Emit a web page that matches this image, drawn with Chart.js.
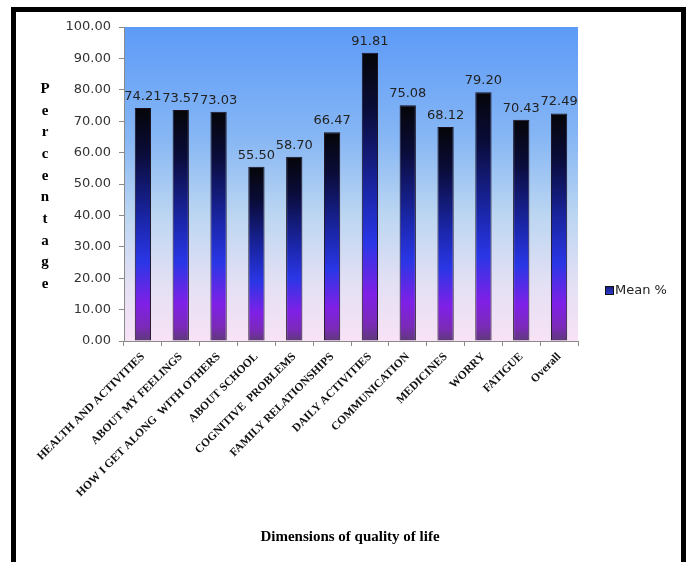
<!DOCTYPE html>
<html>
<head>
  <meta charset="UTF-8">
  <title>Dimensions of quality of life</title>
  <script src="https://cdn.jsdelivr.net/npm/chart.js@4/dist/chart.umd.min.js"></script>
  <style>
    html, body { margin: 0; padding: 0; background: #fff; }
    #wrap { position: relative; width: 689px; height: 562px; }
  </style>
</head>
<body>
  <div id="wrap"><canvas id="qolChart" width="689" height="562"></canvas></div>

  <script>
    // Mean % per dimension
    const dimensions = [
      "HEALTH AND ACTIVITIES", "ABOUT MY FEELINGS", "HOW I GET ALONG  WITH OTHERS",
      "ABOUT SCHOOL", "COGNITIVE  PROBLEMS", "FAMILY RELATIONSHIPS",
      "DAILY ACTIVITIES", "COMMUNICATION", "MEDICINES", "WORRY", "FATIGUE", "Overall"
    ];
    const meanPercent = [74.21, 73.57, 73.03, 55.50, 58.70, 66.47, 91.81, 75.08, 68.12, 79.20, 70.43, 72.49];
    const yTicks = [0, 10, 20, 30, 40, 50, 60, 70, 80, 90, 100];
    const seriesName = "Mean %";
    const yTitle = "Percentage";
    const xTitle = "Dimensions of quality of life";

    const numFont = "DejaVu Sans";
    const serifFont = "Liberation Serif";

    // fill for each bar: black at the top fading through blue to purple
    function barFill(ctx) {
      const chart = ctx.chart;
      if (!chart.chartArea || ctx.raw == null) return "#2030c0";
      const y = chart.scales.y;
      const top = y.getPixelForValue(ctx.raw);
      const base = y.getPixelForValue(0);
      const g = chart.ctx.createLinearGradient(0, top, 0, base);
      g.addColorStop(0, "#050508");
      g.addColorStop(0.2, "#0a0c3a");
      g.addColorStop(0.48, "#1a26a8");
      g.addColorStop(0.66, "#2a36e6");
      g.addColorStop(0.84, "#8020e6");
      g.addColorStop(0.94, "#7a2ab8");
      g.addColorStop(1, "#5e3a78");
      return g;
    }

    // plot background gradient, value labels, stacked y title, legend, frame
    const decor = {
      id: "decor",
      beforeDraw(chart) {
        const { ctx, chartArea: a } = chart;
        const g = ctx.createLinearGradient(0, a.top, 0, a.bottom);
        g.addColorStop(0, "#5d9bf8");
        g.addColorStop(0.35, "#86b6f4");
        g.addColorStop(0.6, "#bcd6f2");
        g.addColorStop(0.82, "#e4e0f4");
        g.addColorStop(1, "#f8e2f6");
        ctx.save();
        ctx.fillStyle = g;
        ctx.fillRect(a.left, a.top, a.right - a.left, a.bottom - a.top);
        ctx.restore();
      },
      afterDatasetsDraw(chart) {
        const { ctx } = chart;
        const meta = chart.getDatasetMeta(0);
        ctx.save();
        ctx.font = "13px '" + numFont + "'";
        ctx.fillStyle = "#222";
        ctx.textAlign = "center";
        ctx.textBaseline = "bottom";
        meta.data.forEach((bar, i) => {
          ctx.fillText(meanPercent[i].toFixed(2), bar.x, bar.y - 5);
        });
        ctx.restore();
      },
      afterDraw(chart) {
        const { ctx } = chart;
        ctx.save();
        // y title, one letter per line
        ctx.font = "bold 15px '" + serifFont + "'";
        ctx.fillStyle = "#000";
        ctx.textAlign = "center";
        ctx.textBaseline = "middle";
        yTitle.split("").forEach((ch, i) => {
          ctx.fillText(ch, 45, 89 + i * 21.7);
        });
        // x title
        ctx.font = "bold 15px '" + serifFont + "'";
        ctx.fillText(xTitle, 350, 537);
        // legend
        const lg = ctx.createLinearGradient(0, 286, 0, 295);
        lg.addColorStop(0, "#141a70");
        lg.addColorStop(1, "#3040e0");
        ctx.fillStyle = lg;
        ctx.fillRect(605, 286, 8, 8);
        ctx.strokeStyle = "#111";
        ctx.lineWidth = 1;
        ctx.strokeRect(605.5, 286.5, 8, 8);
        ctx.fillStyle = "#222";
        ctx.textAlign = "left";
        ctx.font = "13px '" + numFont + "'";
        ctx.fillText(seriesName, 615, 291);
        // outer frame
        ctx.strokeStyle = "#000";
        ctx.lineWidth = 5;
        ctx.strokeRect(13.5, 9.5, 670, 600);
        ctx.restore();
      }
    };

    new Chart(document.getElementById("qolChart").getContext("2d"), {
      type: "bar",
      data: {
        labels: dimensions,
        datasets: [{
          label: seriesName,
          data: meanPercent,
          backgroundColor: barFill,
          borderColor: "#1a1020",
          borderWidth: 1,
          categoryPercentage: 1.0,
          barPercentage: 0.43
        }]
      },
      options: {
        responsive: false,
        animation: false,
        layout: { padding: { left: 0, right: 111, top: 27, bottom: 0 } },
        plugins: {
          legend: { display: false },
          tooltip: { enabled: false }
        },
        scales: {
          y: {
            min: 0,
            max: 100,
            afterFit(s) { s.width = 124; },
            afterBuildTicks(s) { s.ticks = yTicks.map(v => ({ value: v })); },
            border: { display: true, color: "#8a8a8a", width: 1 },
            grid: { drawOnChartArea: false, tickLength: 5, color: "#8a8a8a" },
            ticks: {
              padding: 8,
              color: "#333",
              font: { family: numFont, size: 13 },
              callback: v => Number(v).toFixed(2)
            }
          },
          x: {
            afterFit(s) { s.height = 221; },
            border: { display: true, color: "#8a8a8a", width: 1 },
            grid: { drawOnChartArea: false, tickLength: 5, color: "#8a8a8a", offset: true },
            ticks: {
              autoSkip: false,
              minRotation: 45,
              maxRotation: 45,
              padding: 4,
              color: "#111",
              font: { family: serifFont, size: 11.5, weight: "bold" }
            }
          }
        }
      },
      plugins: [decor]
    });
  </script>
</body>
</html>
